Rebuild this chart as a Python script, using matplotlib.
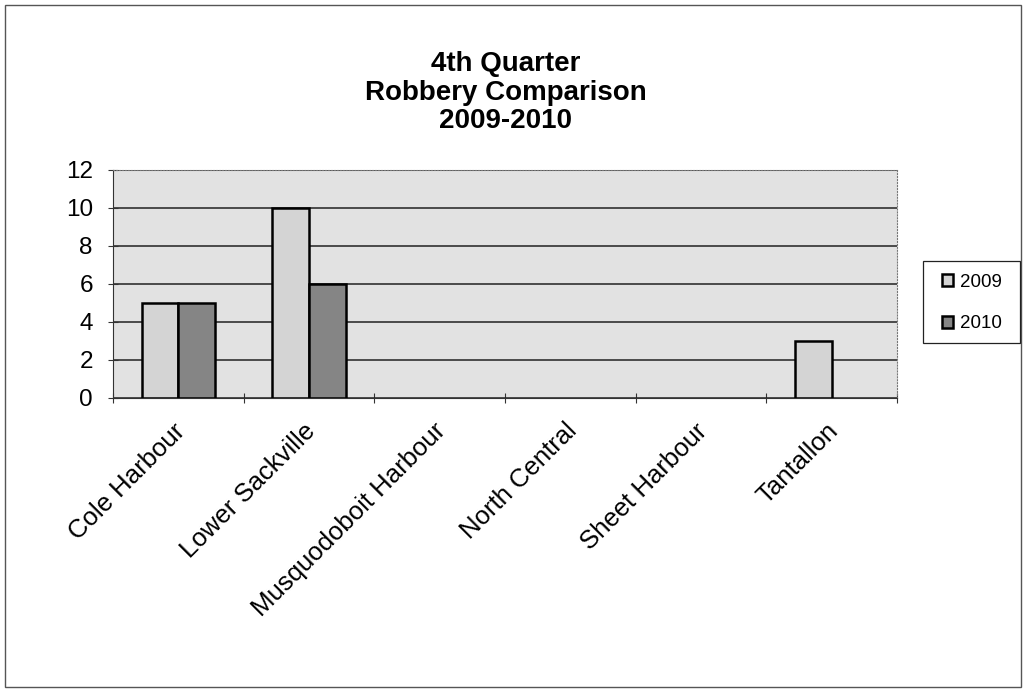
import matplotlib
matplotlib.use("Agg")
import matplotlib.pyplot as plt
import numpy as np
from matplotlib.patches import Rectangle

plt.rcParams["font.family"] = ["Liberation Sans", "DejaVu Sans"]

districts = ["Cole Harbour", "Lower Sackville", "Musquodoboit Harbour",
             "North Central", "Sheet Harbour", "Tantallon"]
y2009 = [5, 10, 0, 0, 0, 3]
y2010 = [5, 6, 0, 0, 0, 0]

W, H = 1026, 691
fig = plt.figure(figsize=(W / 100, H / 100), dpi=100)
fig.patches.append(Rectangle((5 / W, 4 / H), 1016 / W, 682 / H, transform=fig.transFigure,
                             fill=False, edgecolor="#555555", lw=1.0))

ax = fig.add_axes([113 / W, 1 - 398 / H, 784 / W, 228 / H])
ax.set_facecolor("#e2e2e2")
x = np.arange(len(districts))
bw = 0.28
# zero-height bars are not drawn in the original
ec09 = ["black" if v else "none" for v in y2009]
ec10 = ["black" if v else "none" for v in y2010]
ax.bar(x - bw / 2, y2009, bw, color="#d4d4d4", edgecolor=ec09, lw=1.8, label="2009", zorder=3)
ax.bar(x + bw / 2, y2010, bw, color="#858585", edgecolor=ec10, lw=1.8, label="2010", zorder=3)

ax.set_xlim(-0.5, len(districts) - 0.5)
ax.set_ylim(0, 12)
ax.set_yticks(range(0, 13, 2))
ax.yaxis.grid(True, color="#222222", lw=1.1, zorder=1)
ax.set_axisbelow(True)
ax.set_xticks(np.arange(len(districts) + 1) - 0.5)
ax.set_xticklabels([])
ax.set_xticks(x - 0.045, minor=True)
ax.set_xticklabels(districts, minor=True, rotation=45, ha="right", va="top",
                   rotation_mode="anchor", fontsize=18.5)
ax.tick_params(axis="x", which="minor", length=0, pad=15)
ax.tick_params(axis="x", which="major", direction="inout", length=7, color="#333333")
ax.tick_params(axis="y", direction="inout", length=7, pad=11, labelsize=17.5, color="#333333")
for s in ["top", "right"]:
    ax.spines[s].set_color("#777777")
    ax.spines[s].set_linestyle(":")
ax.spines["left"].set_color("#333333")
ax.spines["bottom"].set_color("#333333")

title_lines = ["4th Quarter", "Robbery Comparison", "2009-2010"]
for i, line in enumerate(title_lines):
    fig.text(506 / W, 1 - (64 + 28.5 * i) / H, line, ha="center", va="center",
             fontsize=20, fontweight="bold")

# legend frame drawn by hand to match the box size
fig.patches.append(Rectangle((923 / W, 1 - 343 / H), 97 / W, 82 / H, transform=fig.transFigure,
                             fill=False, edgecolor="#222222", lw=0.9))
leg = fig.legend(loc="center", bbox_to_anchor=(972 / W, 1 - 303 / H), fontsize=13.5,
                 frameon=False, handlelength=0.6, handleheight=0.6, handletextpad=0.4,
                 labelspacing=1.3, borderpad=0, borderaxespad=0)

fig.savefig("out.png", dpi=100, facecolor="white")
print("saved")
